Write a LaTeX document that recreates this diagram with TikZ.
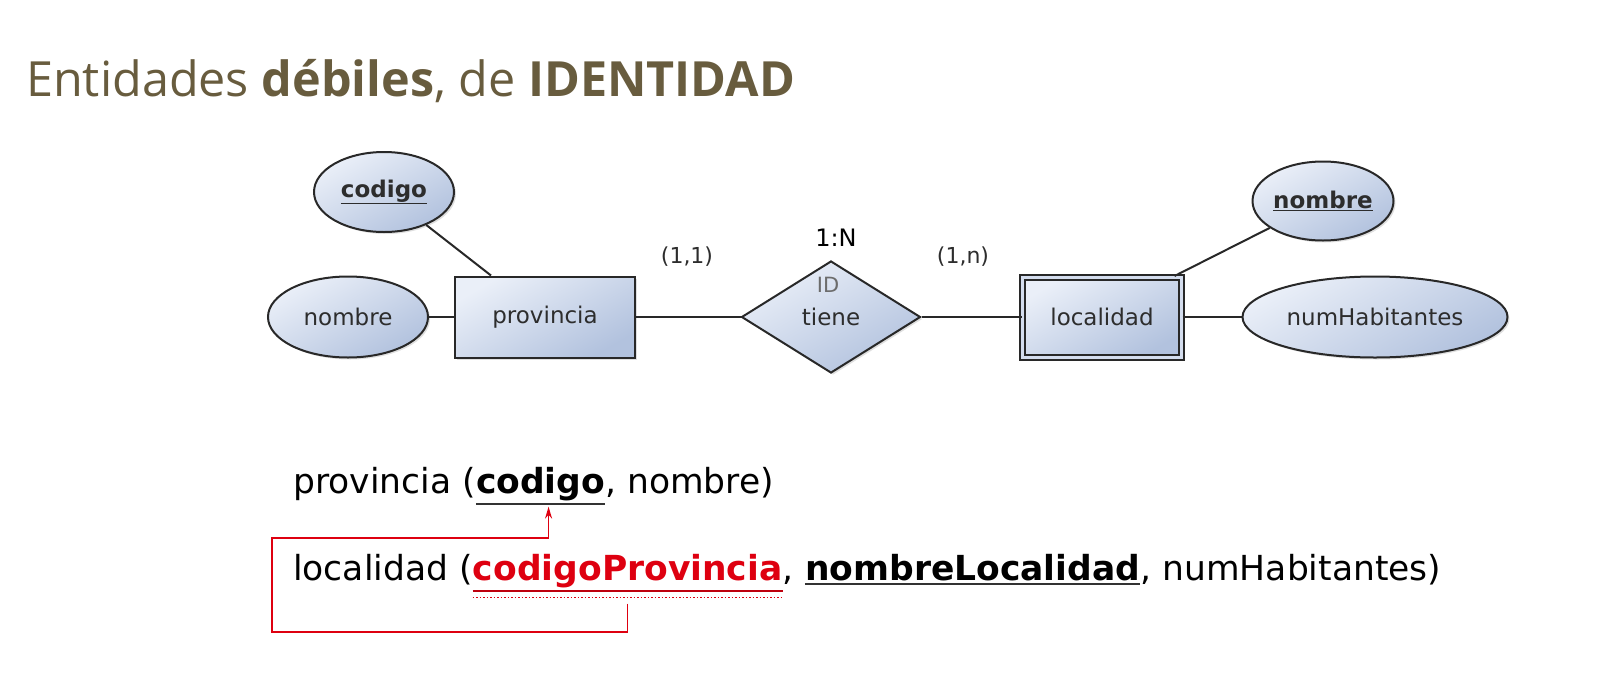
\documentclass[tikz,border=0pt]{standalone}
\usepackage{fontspec}
\setmainfont{DejaVu Sans}
\newfontfamily\titlefont{Open Sans}
\usetikzlibrary{shapes.geometric,shadows,arrows.meta,positioning}

\definecolor{erlight}{RGB}{234,239,248}
\definecolor{erdark}{RGB}{178,194,222}
\definecolor{erline}{RGB}{40,40,40}
\definecolor{ertext}{RGB}{45,45,45}
\definecolor{titlecol}{RGB}{104,92,62}
\definecolor{fkred}{RGB}{222,0,16}

\tikzset{
  erbase/.style={draw=erline, line width=2pt, inner sep=0pt, text=ertext,
    font=\fontsize{23}{27}\selectfont,
    top color=erlight, bottom color=erdark, shading angle=30,
    drop shadow={opacity=.25, shadow xshift=2pt, shadow yshift=-2pt}},
  attr/.style={erbase, ellipse},
  entity/.style={erbase, rectangle},
  weakentity/.style={entity, double=erlight!60!erdark, double distance=3pt},
  relation/.style={erbase, diamond, aspect=1.6},
  conn/.style={draw=erline, line width=2pt},
  card/.style={font=\fontsize{22}{26}\selectfont, text=ertext},
  rel/.style={inner sep=0pt, anchor=base west, font=\fontsize{34.5}{40}\selectfont},
  pkline/.style={line width=2pt, draw=black!80},
  fk/.style={draw=fkred, line width=1.4pt, -{Stealth[length=12pt,width=7pt]}}
}

\begin{document}
\begin{tikzpicture}[x=1pt, y=-1pt]
\useasboundingbox (0,0) rectangle (1617,683);

% title
\node[anchor=base west, inner sep=0pt, text=titlecol, font=\titlefont\fontsize{48.5}{56}\selectfont]
  (title) at (26,96) {Entidades \textbf{débiles}, de \textbf{IDENTIDAD}};

% entities and relation
\node[entity, minimum width=180pt, minimum height=81pt] (provincia) at (545,317) {provincia};
\node[relation, minimum width=179pt, minimum height=112pt] (tiene) at (831,317) {tiene};
\node[text=ertext!70, font=\fontsize{21}{25}\selectfont] (idmark) at (828,285) {ID};
\node[weakentity, minimum width=159pt, minimum height=80pt] (localidad) at (1102,317) {localidad};

% attributes
\node[attr, minimum width=140pt, minimum height=80pt] (codigo) at (384,192) {\underline{\textbf{codigo}}};
\node[attr, minimum width=160pt, minimum height=81pt] (nombreP) at (348,317) {nombre};
\node[attr, minimum width=141pt, minimum height=79pt] (nombreL) at (1323,201) {\underline{\textbf{nombre}}};
\node[attr, minimum width=265pt, minimum height=81pt] (numHab) at (1375,317) {numHabitantes};

% cardinalities
\node[font=\fontsize{24}{28}\selectfont] (tipo) at (836,238) {1:N};
\node[card] (cardP) at (687,257) {(1,1)};
\node[card] (cardL) at (963,257) {(1,n)};

% connectors
\coordinate (provTop) at ([xshift=37pt]provincia.north west);
\coordinate (locTop) at ([xshift=-8pt]localidad.north east);
\draw[conn] (codigo) -- (provTop);
\draw[conn] (nombreP.east) -- (provincia.west);
\draw[conn] (provincia.east) -- (tiene.west);
\draw[conn] (tiene.east) -- (localidad.west);
\draw[conn] (localidad.east) -- (numHab.west);
\draw[conn] (nombreL) -- (locTop);

% relational schema
\node[rel] (provA) at (293,493) {provincia (};
\node[rel, font=\fontsize{34.5}{40}\selectfont\bfseries] (provCod) at (provA.base east) {codigo};
\node[rel] (provB) at (provCod.base east) {, nombre)};

\node[rel] (locA) at (293,580) {localidad (};
\node[rel, text=fkred, font=\fontsize{34.5}{40}\selectfont\bfseries] (locCod) at (locA.base east) {codigoProvincia};
\node[rel] (locB) at (locCod.base east) {,\ \mbox{}};
\node[rel, font=\fontsize{34.5}{40}\selectfont\bfseries] (locNom) at (locB.base east) {nombreLocalidad};
\node[rel] (locC) at (locNom.base east) {, numHabitantes)};

% keys
\draw[pkline] ([yshift=-3pt]provCod.south west) -- ([yshift=-3pt]provCod.south east);
\draw[pkline] ([yshift=-3pt]locNom.south west) -- ([yshift=-3pt]locNom.south east);
\draw[pkline, draw=fkred!85!black] ([yshift=-3pt]locCod.south west) -- ([yshift=-3pt]locCod.south east);
\draw[fkred, line width=1.2pt, dash pattern=on 1.5pt off 2pt] ([yshift=-10pt]locCod.south west) -- ([yshift=-10pt]locCod.south east);

% foreign key arrow
\coordinate (fkStart) at ([yshift=-16pt]locCod.south);
\coordinate (fkLeft) at (272,632);
\coordinate (fkUp) at (272,538);
\coordinate (fkEnd) at ([xshift=8pt, yshift=-6pt]provCod.south);
\draw[fk] (fkStart) |- (fkLeft) -- (fkUp) -| (fkEnd);
\end{tikzpicture}
\end{document}
